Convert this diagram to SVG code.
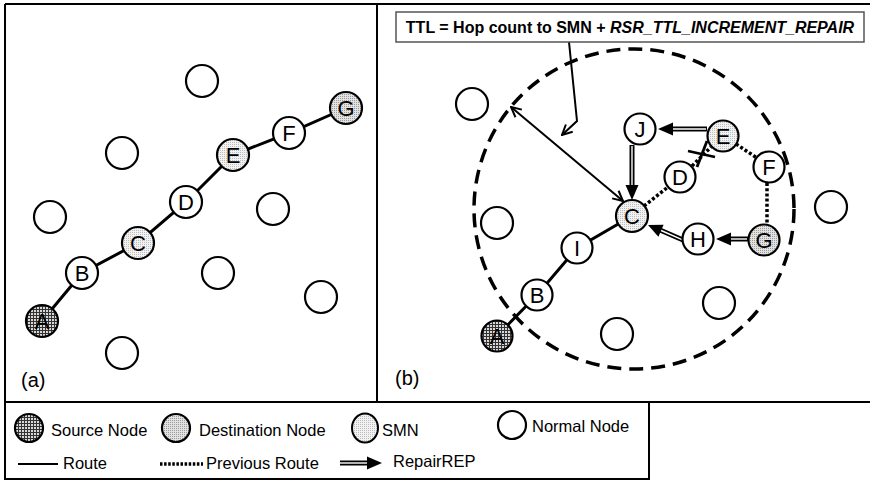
<svg xmlns="http://www.w3.org/2000/svg" width="870" height="482" viewBox="0 0 870 482">
<defs>
<pattern id="pSrc" width="3" height="3" patternUnits="userSpaceOnUse"><rect width="3" height="3" fill="#d8d8d8"/><rect width="3" height="1" fill="#333"/><rect width="1" height="3" fill="#333"/></pattern>
<pattern id="pDst" width="2" height="2" patternUnits="userSpaceOnUse"><rect width="2" height="2" fill="#e2e2e2"/><rect width="1" height="1" fill="#9a9a9a"/></pattern>
<pattern id="pSmn" width="2" height="2" patternUnits="userSpaceOnUse"><rect width="2" height="2" fill="#f2f2f2"/><rect width="1" height="1" fill="#bdbdbd"/></pattern>
<marker id="open" viewBox="0 0 12 12" refX="11" refY="6" markerWidth="12" markerHeight="12" markerUnits="userSpaceOnUse" orient="auto-start-reverse"><path d="M1,1 L11,6 L1,11" fill="none" stroke="#000" stroke-width="2"/></marker>
</defs>
<style>
.frame{fill:none;stroke:#000;stroke-width:2}
.node circle{stroke:#000;stroke-width:2.2;fill:#fff}
.node.src circle{fill:url(#pSrc)}
.node.dst circle{fill:url(#pDst)}
.node.smn circle{fill:url(#pSmn)}
.node text{font-family:"Liberation Sans",Arial,sans-serif;font-size:22px;text-anchor:middle;fill:#000}
.route{stroke:#000;stroke-width:3;fill:none}
.prev{stroke:#000;stroke-width:3.5;stroke-dasharray:3 2.2;fill:none}
.dbl{stroke:#000;stroke-width:5;fill:none}
.dblw{stroke:#fff;stroke-width:1.4;fill:none}
.head{fill:#000}
.thin{stroke:#000;stroke-width:2;fill:none}
.lg{font-family:"Liberation Sans",Arial,sans-serif;font-size:16.5px;fill:#000}
.pl{font-family:"Liberation Sans",Arial,sans-serif;font-size:20px;fill:#000}
</style>
<rect width="870" height="482" fill="#fff"/>
<path class="frame" d="M5,4 H870 M5,402 H870 M5,4 V402 M377,4 V402"/>

<g id="connectors">
<polyline class="route" points="42,321 82,273 138,243 186,202 233,155 289,133 346,108"/>
<polyline class="route" points="497,336 537,295 577,248 632,216"/>
<line class="prev" x1="644" y1="206" x2="668" y2="187"/>
<line class="prev" x1="692" y1="166" x2="711" y2="147"/>
<line class="prev" x1="736" y1="144" x2="757" y2="158"/>
<line class="prev" x1="767" y1="183" x2="767" y2="224"/>
<line x1="688" y1="151" x2="715" y2="157" stroke="#000" stroke-width="2.8"/>
<line x1="697" y1="167" x2="707" y2="141" stroke="#000" stroke-width="2.8"/>
<circle cx="634" cy="209" r="160" fill="none" stroke="#000" stroke-width="3.5" stroke-dasharray="14 8"/>
<line class="thin" x1="511" y1="107" x2="623" y2="201" marker-start="url(#open)" marker-end="url(#open)"/>
<polyline class="thin" points="569,42 577,121 562,135" marker-end="url(#open)"/>
<line class="dbl" x1="707" y1="129" x2="671" y2="129"/><line class="dblw" x1="706" y1="129" x2="671" y2="129"/>
<polygon class="head" points="658,129 673,122.5 673,135.5"/>
<line class="dbl" x1="632" y1="145" x2="632" y2="187"/><line class="dblw" x1="632" y1="146" x2="632" y2="187"/>
<polygon class="head" points="632,200 625.5,185 638.5,185"/>
<line class="dbl" x1="748" y1="239" x2="729" y2="239"/><line class="dblw" x1="747" y1="239" x2="729" y2="239"/>
<polygon class="head" points="716,239 731,232.5 731,245.5"/>
<line class="dbl" x1="683" y1="240" x2="660" y2="230"/><line class="dblw" x1="682" y1="239.6" x2="660" y2="230"/>
<polygon class="head" points="648,225 663.6,224.7 658.4,236.7"/>
</g>

<g id="a-n1" class="node"><circle cx="202" cy="81" r="16"/></g>
<g id="a-n2" class="node"><circle cx="122" cy="153" r="16"/></g>
<g id="a-n3" class="node"><circle cx="50" cy="217" r="16"/></g>
<g id="a-n4" class="node"><circle cx="273" cy="209" r="16"/></g>
<g id="a-n5" class="node"><circle cx="218" cy="273" r="16"/></g>
<g id="a-n6" class="node"><circle cx="321" cy="297" r="16"/></g>
<g id="a-n7" class="node"><circle cx="122" cy="353" r="16"/></g>
<g id="a-A" class="node src"><circle cx="42" cy="321" r="16"/><text x="42" y="329">A</text></g>
<g id="a-B" class="node"><circle cx="82" cy="273" r="16"/><text x="82" y="281">B</text></g>
<g id="a-C" class="node smn"><circle cx="138" cy="243" r="16"/><text x="138" y="251">C</text></g>
<g id="a-D" class="node"><circle cx="186" cy="202" r="16"/><text x="186" y="210">D</text></g>
<g id="a-E" class="node smn"><circle cx="233" cy="155" r="16"/><text x="233" y="163">E</text></g>
<g id="a-F" class="node"><circle cx="289" cy="133" r="16"/><text x="289" y="141">F</text></g>
<g id="a-G" class="node dst"><circle cx="346" cy="108" r="16"/><text x="346" y="116">G</text></g>
<text class="pl" x="21" y="387">(a)</text>

<g id="b-n1" class="node"><circle cx="472" cy="104" r="16"/></g>
<g id="b-n2" class="node"><circle cx="497" cy="223" r="16"/></g>
<g id="b-n3" class="node"><circle cx="831" cy="207" r="16"/></g>
<g id="b-n4" class="node"><circle cx="719" cy="303" r="16"/></g>
<g id="b-n5" class="node"><circle cx="617" cy="334" r="16"/></g>
<g id="b-J" class="node"><circle cx="640" cy="129" r="15.5"/><text x="640" y="137">J</text></g>
<g id="b-E" class="node smn"><circle cx="723" cy="136" r="15.5"/><text x="723" y="144">E</text></g>
<g id="b-F" class="node"><circle cx="769" cy="167" r="15.5"/><text x="769" y="175">F</text></g>
<g id="b-D" class="node"><circle cx="680" cy="177" r="15.5"/><text x="680" y="185">D</text></g>
<g id="b-C" class="node smn"><circle cx="632" cy="216" r="16"/><text x="632" y="224">C</text></g>
<g id="b-I" class="node"><circle cx="577" cy="248" r="15.5"/><text x="577" y="256">I</text></g>
<g id="b-H" class="node"><circle cx="698" cy="239" r="15.5"/><text x="698" y="247">H</text></g>
<g id="b-G" class="node dst"><circle cx="764" cy="240" r="15.5"/><text x="764" y="248">G</text></g>
<g id="b-B" class="node"><circle cx="537" cy="295" r="15.5"/><text x="537" y="303">B</text></g>
<g id="b-A" class="node src"><circle cx="497" cy="336" r="15.5"/><text x="497" y="344">A</text></g>
<text class="pl" x="395" y="385">(b)</text>

<g id="ttl-box">
<rect x="396" y="12" width="468" height="30" fill="#fff" stroke="#555" stroke-width="1.5"/>
<text x="630" y="33" text-anchor="middle" font-family="'Liberation Sans',Arial,sans-serif" font-size="16" font-weight="bold">TTL = Hop count to SMN + <tspan font-style="italic">RSR_TTL_INCREMENT_REPAIR</tspan></text>
</g>

<g id="legend">
<rect x="5" y="402" width="644" height="77" fill="none" stroke="#000" stroke-width="2"/>
<g class="node src"><circle cx="29" cy="428" r="14"/></g>
<text class="lg" x="51" y="436">Source Node</text>
<g class="node dst"><circle cx="176" cy="428" r="14"/></g>
<text class="lg" x="199" y="436">Destination Node</text>
<g class="node smn"><ellipse cx="365" cy="428" rx="13" ry="14.5" stroke="#000" stroke-width="2" fill="url(#pSmn)"/></g>
<text class="lg" x="382" y="436">SMN</text>
<g class="node"><circle cx="512" cy="425" r="14"/></g>
<text class="lg" x="532" y="432">Normal Node</text>
<line x1="18" y1="464" x2="58" y2="464" stroke="#000" stroke-width="2.2"/>
<text class="lg" x="63" y="469">Route</text>
<line x1="160" y1="464" x2="203" y2="464" stroke="#000" stroke-width="3.5" stroke-dasharray="2.5 1.6"/>
<text class="lg" x="206" y="469">Previous Route</text>
<line class="dbl" x1="340" y1="463" x2="369" y2="463"/><line class="dblw" x1="340" y1="463" x2="369" y2="463"/>
<polygon class="head" points="382,463 367,456.5 367,469.5"/>
<text class="lg" x="393" y="467">RepairREP</text>
</g>
</svg>
